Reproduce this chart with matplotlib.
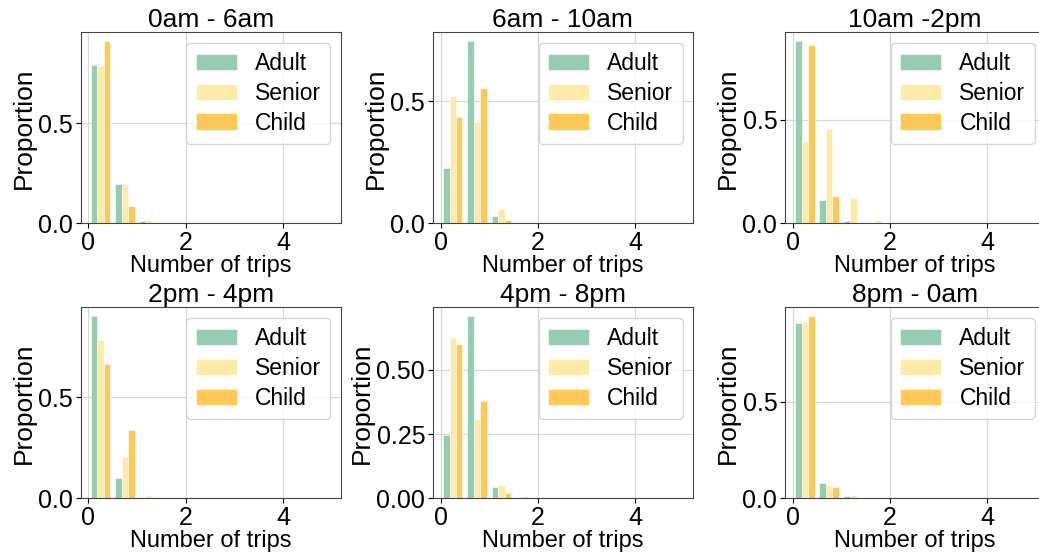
import numpy as np
import matplotlib
matplotlib.use("Agg")
import matplotlib.pyplot as plt

plt.rcParams['font.family'] = ['Liberation Sans', 'DejaVu Sans']

# bin edges of the "Number of trips" histogram
bin_edges = [0.0, 0.5, 1.0, 1.5, 2.0, 2.5, 3.0, 3.5, 4.0, 4.5, 5.0]
groups = ["Adult", "Senior", "Child"]
titles = ["0am - 6am", "6am - 10am", "10am -2pm", "2pm - 4pm", "4pm - 8pm", "8pm - 0am"]
yticks_list = [[0, 0.5], [0, 0.5], [0, 0.5], [0, 0.5], [0, 0.25, 0.5], [0, 0.5]]

# proportions per bin (10 bins)
adult_0_6   = [0.795, 0.195, 0.012, 0, 0, 0, 0, 0, 0, 0]
senior_0_6  = [0.787, 0.197, 0.015, 0, 0, 0, 0, 0, 0, 0]
child_0_6   = [0.911, 0.088, 0.001, 0, 0, 0, 0, 0, 0, 0]

adult_6_10  = [0.227, 0.744, 0.030, 0, 0, 0, 0, 0, 0, 0]
senior_6_10 = [0.522, 0.414, 0.058, 0.004, 0, 0, 0, 0, 0, 0]
child_6_10  = [0.436, 0.552, 0.013, 0.003, 0, 0, 0, 0, 0, 0]

adult_10_14  = [0.880, 0.113, 0.010, 0, 0, 0, 0, 0, 0, 0]
senior_10_14 = [0.400, 0.458, 0.122, 0.018, 0, 0, 0, 0, 0, 0]
child_10_14  = [0.863, 0.134, 0.002, 0, 0, 0, 0, 0, 0, 0]

adult_14_16  = [0.900, 0.100, 0.003, 0, 0, 0, 0, 0, 0, 0]
senior_14_16 = [0.781, 0.203, 0.015, 0.003, 0, 0, 0, 0, 0, 0]
child_14_16  = [0.663, 0.338, 0.005, 0, 0, 0, 0, 0, 0, 0]

adult_16_20  = [0.248, 0.708, 0.044, 0.004, 0, 0, 0, 0, 0, 0]
senior_16_20 = [0.624, 0.310, 0.053, 0.009, 0.003, 0.002, 0, 0, 0, 0]
child_16_20  = [0.601, 0.380, 0.021, 0.002, 0, 0, 0, 0, 0, 0]

adult_20_24  = [0.909, 0.080, 0.013, 0, 0, 0, 0, 0, 0, 0]
senior_20_24 = [0.914, 0.070, 0.016, 0.002, 0.002, 0, 0, 0, 0, 0]
child_20_24  = [0.941, 0.060, 0.006, 0.001, 0, 0, 0, 0, 0, 0]

panels = [
    (adult_0_6, senior_0_6, child_0_6),
    (adult_6_10, senior_6_10, child_6_10),
    (adult_10_14, senior_10_14, child_10_14),
    (adult_14_16, senior_14_16, child_14_16),
    (adult_16_20, senior_16_20, child_16_20),
    (adult_20_24, senior_20_24, child_20_24),
]

colors = ['#96cdb2', '#ffeba8', '#ffc95a']

edges = np.array(bin_edges)
centers = (edges[:-1] + edges[1:]) / 2

fig, axes = plt.subplots(2, 3, figsize=(10.39, 5.54), dpi=100)
fig.subplots_adjust(left=80.7/1039, right=1045/1039, top=1-32.3/554, bottom=1-498.3/554,
                    wspace=0.354, hspace=0.44)

for ax, title, series, yt in zip(axes.flat, titles, panels, yticks_list):
    ax.hist([centers] * 3, bins=edges, weights=[np.array(s) for s in series],
            color=colors, label=groups, edgecolor='white', linewidth=0.4)
    ax.set_xlim(-0.16, 5.19)
    ax.set_xticks([0, 2, 4])
    ax.set_yticks(yt)
    ax.grid(True, color='#d8d8d8', linewidth=0.9)
    ax.set_axisbelow(True)
    ax.set_title(title, fontsize=19, pad=3)
    ax.set_xlabel("Number of trips", fontsize=17, labelpad=0)
    ax.set_ylabel("Proportion", fontsize=19, labelpad=2)
    ax.tick_params(labelsize=18, pad=2)
    for sp in ax.spines.values():
        sp.set_color('#444444')
    ax.legend(loc='upper right', fontsize=16.5, handlelength=1.8, labelspacing=0.3,
              borderaxespad=0.45)

fig.savefig("out.png", dpi=100)
